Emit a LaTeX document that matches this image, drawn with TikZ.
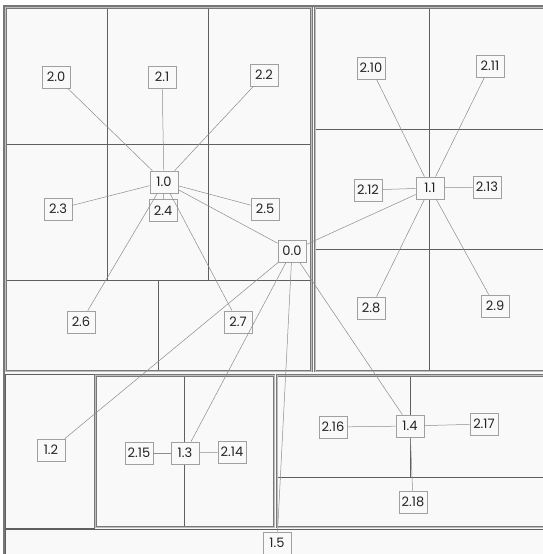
\documentclass[tikz,border=0pt]{standalone}
\usepackage{fontspec}
\setmainfont{Poppins}
\definecolor{pane}{RGB}{249,249,249}
\definecolor{rim}{RGB}{120,120,120}
\definecolor{rimlight}{RGB}{190,190,190}
\definecolor{cellline}{RGB}{95,95,95}
\definecolor{link}{RGB}{140,140,140}
\definecolor{tag}{RGB}{160,160,160}
\definecolor{ink}{RGB}{35,35,35}
\tikzset{rootframe/.style={draw=rim,line width=1.6pt,fill=pane},
         groupframe/.style={draw=rim,double=rimlight,double distance=0.9pt,line width=0.8pt},
         leafframe/.style={draw=cellline,line width=0.6pt},
         cell/.style={draw=cellline,line width=0.5pt},
         link/.style={draw=link,line width=0.5pt},
         tag/.style={draw=tag,fill=pane,line width=0.7pt,text=ink,font=\fontsize{13}{15}\selectfont,
                     minimum width=28pt,minimum height=22pt,inner sep=1.2pt}}

\begin{document}
\begin{tikzpicture}[x=1pt,y=-1pt]
  \useasboundingbox (0,0) rectangle (542,554);
  \fill[white] (0,0) rectangle (542,554);
  \draw[rootframe] (4,6) rectangle (556,562);
  \begin{scope}
    \draw[cell] (107,7.5)--(107,280) (208,7.5)--(208,280)
                (5.5,144)--(311.5,144) (5.5,280)--(311.5,280) (158,280)--(158,371);
    \draw[groupframe] (5.5,7.5) rectangle (311.5,371);
  \end{scope}
  \begin{scope}
    \draw[cell] (429,7.5)--(429,371) (315,129)--(556,129);
    \draw[cell,line width=0.8pt] (315,249)--(556,249);
    \draw[groupframe] (315,7.5) rectangle (556,371);
  \end{scope}
  \draw[leafframe] (5.5,374) rectangle (94,528);
  \begin{scope}
    \draw[cell] (184,375.5)--(184,527);
    \draw[groupframe] (95.5,375.5) rectangle (274,527);
  \end{scope}
  \begin{scope}
    \draw[cell,line width=0.8pt] (410,375.5)--(410,477) (277,477)--(556,477);
    \draw[groupframe] (277,375.5) rectangle (556,527);
  \end{scope}
  \draw[leafframe] (5.5,529.5) rectangle (556,562);

  \node[tag] (n00) at (292,251) {0.0};
  \node[tag] (n10) at (164,182) {1.0};
  \node[tag] (n11) at (430,188) {1.1};
  \node[tag] (n12) at (51,450) {1.2};
  \node[tag] (n13) at (185,453) {1.3};
  \node[tag] (n14) at (410,426) {1.4};
  \node[tag] (n15) at (277,543) {1.5};
  \node[tag] (n20) at (56,77) {2.0};
  \node[tag] (n21) at (162,77) {2.1};
  \node[tag] (n22) at (264,75) {2.2};
  \node[tag] (n23) at (58,209) {2.3};
  \node[tag] (n24) at (163,210.5) {2.4};
  \node[tag] (n25) at (265,209) {2.5};
  \node[tag] (n26) at (81,322) {2.6};
  \node[tag] (n27) at (238,322) {2.7};
  \node[tag] (n28) at (371,308) {2.8};
  \node[tag] (n29) at (495,306) {2.9};
  \node[tag] (n210) at (371,68) {2.10};
  \node[tag] (n211) at (490,66) {2.11};
  \node[tag] (n212) at (368,190) {2.12};
  \node[tag] (n213) at (487,187) {2.13};
  \node[tag] (n214) at (232,452) {2.14};
  \node[tag] (n215) at (139,453) {2.15};
  \node[tag] (n216) at (333,427) {2.16};
  \node[tag] (n217) at (484,424) {2.17};
  \node[tag] (n218) at (413,502) {2.18};

  \foreach \k in {10,11,12,13,14,15}
    \draw[link] (n00) -- (n\k);
  \foreach \k in {20,21,22,23,24,25,26,27}
    \draw[link] (n10) -- (n\k);
  \foreach \k in {28,29,210,211,212,213}
    \draw[link] (n11) -- (n\k);
  \foreach \k in {214,215}
    \draw[link] (n13) -- (n\k);
  \foreach \k in {216,217,218}
    \draw[link] (n14) -- (n\k);
\end{tikzpicture}
\end{document}
